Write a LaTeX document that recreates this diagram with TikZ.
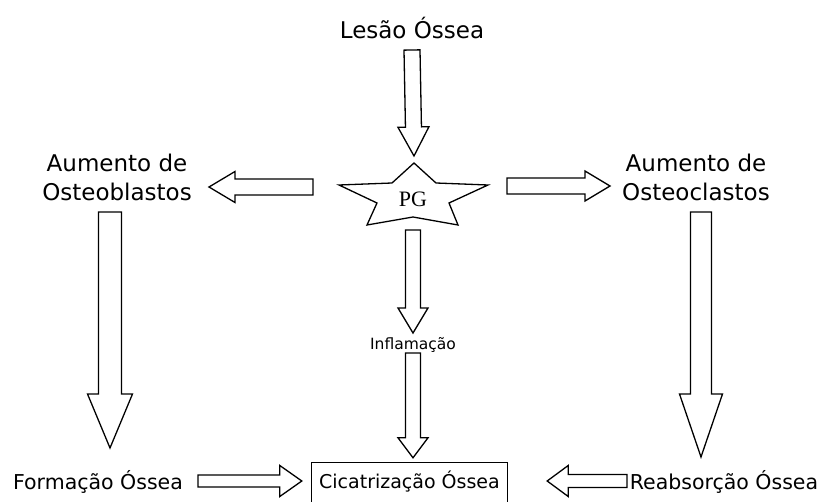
\documentclass[tikz,border=0pt]{standalone}
\usepackage{fontspec}
\setmainfont{DejaVu Sans}
\newfontfamily\starfont{Liberation Serif}
\usetikzlibrary{calc}

% block arrow between two points: start, end, shaft half width, head half width, head length
\newcommand{\blockarrow}[5]{%
  \coordinate (ba-s) at (#1);
  \coordinate (ba-e) at (#2);
  \coordinate (ba-h) at ($(ba-e)!#5!(ba-s)$);
  \draw[fatarrow] ($(ba-s)!#3!90:(ba-e)$) -- ($(ba-h)!#3!90:(ba-e)$)
    -- ($(ba-h)!#4!90:(ba-e)$) -- (ba-e) -- ($(ba-h)!#4!-90:(ba-e)$)
    -- ($(ba-h)!#3!-90:(ba-e)$) -- ($(ba-s)!#3!-90:(ba-e)$) -- cycle;
}

\tikzset{
  label/.style={font=\fontsize{23}{29}\selectfont, align=center, inner sep=0pt},
  lowlabel/.style={font=\fontsize{20.5}{24}\selectfont, inner sep=0pt},
  small/.style={font=\fontsize{15.5}{18}\selectfont, inner sep=0pt},
  fatarrow/.style={draw, line width=1.3pt, line join=miter, fill=white},
}

\begin{document}
\begin{tikzpicture}[x=1pt, y=-1pt]
  \useasboundingbox[fill=white] (0,0) rectangle (823,502);

  \node[label] (lesao) at (412,28) {Lesão Óssea};
  \node[label] (osteob) at (117,177) {Aumento de\\Osteoblastos};
  \node[label] (osteoc) at (696,177) {Aumento de\\Osteoclastos};
  \node[small] (inflam) at (413,345) {Inflamação};
  \node[lowlabel] (formacao) at (98,482) {Formação Óssea};
  \node[lowlabel] (reabs) at (724,482) {Reabsorção Óssea};
  \node[minimum width=195pt, minimum height=38pt,
    font=\fontsize{19}{22}\selectfont] (cicatriz) at (409.5,482) {Cicatrização Óssea};
  % box runs off the bottom edge
  \draw[line width=1.3pt] ([yshift=-6pt]cicatriz.south west) |- (cicatriz.north east)
    -- ([yshift=-6pt]cicatriz.south east);

  % the star
  \draw[line width=1.3pt, line join=miter, fill=white]
    (414,163) -- (436,183) -- (488,185) -- (449,203) -- (458,225)
    -- (413,217) -- (367,225) -- (377,203) -- (339,185) -- (392,183) -- cycle;
  \node[font=\starfont\fontsize{22}{24}\selectfont, inner sep=0pt] (pg) at (413,199) {PG};

  \blockarrow{[yshift=-22pt]lesao.center}{[xshift=1pt,yshift=43pt]pg.center}{8pt}{15.5pt}{29pt}
  \blockarrow{[xshift=-100pt,yshift=12pt]pg.center}{[xshift=92pt,yshift=-10pt]osteob.center}{8pt}{15.5pt}{26pt}
  \blockarrow{[xshift=94pt,yshift=13pt]pg.center}{[xshift=-86pt,yshift=-9pt]osteoc.center}{8pt}{15pt}{25pt}
  \blockarrow{[xshift=-7pt,yshift=-35pt]osteob.center}{[xshift=12pt,yshift=34pt]formacao.center}{11.5pt}{22.5pt}{54pt}
  \blockarrow{[xshift=5pt,yshift=-35pt]osteoc.center}{[xshift=-23pt,yshift=25pt]reabs.center}{10.5pt}{21.5pt}{63pt}
  \blockarrow{[yshift=-31pt]pg.center}{[yshift=12pt]inflam.center}{7.5pt}{15pt}{25pt}
  \blockarrow{[yshift=-8pt]inflam.center}{[xshift=3.5pt,yshift=5pt]cicatriz.north}{7.5pt}{15pt}{20pt}
  \blockarrow{[xshift=100pt,yshift=1pt]formacao.center}{[xshift=-10pt,yshift=1pt]cicatriz.west}{6pt}{15.5pt}{22pt}
  \blockarrow{[xshift=-97pt,yshift=1pt]reabs.center}{[xshift=40pt,yshift=1pt]cicatriz.east}{6.5pt}{15.5pt}{21pt}
\end{tikzpicture}
\end{document}
